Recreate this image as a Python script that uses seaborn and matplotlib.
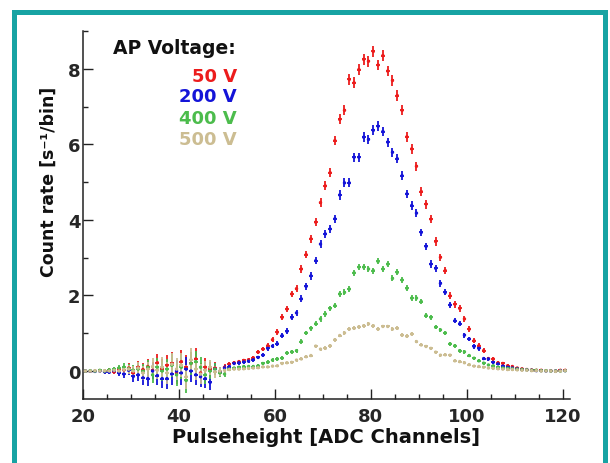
import numpy as np
import pandas as pd
import matplotlib
matplotlib.use("Agg")
import matplotlib.pyplot as plt
import seaborn as sns
from matplotlib.ticker import MultipleLocator, FixedLocator
from matplotlib.patches import Rectangle

# ---------------------------------------------------------------- data
# bin centres of the pulse-height histogram (ADC channels 20 .. 120)
channels = np.arange(20.5, 121.0, 1.0)

voltages = ["50 V", "200 V", "400 V", "500 V"]
colors = ["#ec1c1c", "#1414d8", "#4cbc4c", "#ccbd92"]

rate_50V = [
    0.00, 0.00, 0.00, 0.01, -0.01, 0.02, -0.02, 0.05, 0.03, 0.08,
    -0.05, 0.10, 0.04, 0.12, 0.02, 0.22, 0.05, 0.15, 0.20, -0.05,
    0.25, 0.10, 0.20, 0.32, -0.05, 0.10, 0.05, 0.08, -0.02, 0.10,
    0.18, 0.22, 0.25, 0.28, 0.30, 0.35, 0.50, 0.58, 0.67, 0.83,
    1.03, 1.42, 1.64, 2.04, 2.18, 2.70, 3.08, 3.50, 3.94, 4.46,
    4.90, 5.25, 6.10, 6.66, 6.90, 7.72, 7.63, 7.98, 8.25, 8.20,
    8.46, 8.10, 8.35, 7.94, 7.69, 7.29, 6.90, 6.20, 5.88, 5.42,
    4.75, 4.42, 4.02, 3.43, 3.01, 2.66, 1.99, 1.77, 1.66, 1.38,
    1.11, 0.80, 0.67, 0.54, 0.33, 0.32, 0.22, 0.20, 0.14, 0.12,
    0.08, 0.06, 0.04, 0.03, 0.02, 0.02, 0.01, 0.01, 0.00, 0.02, 0.02,
]
rate_200V = [
    0.00, 0.00, -0.01, 0.00, -0.02, -0.03, 0.01, -0.05, -0.08, 0.02,
    -0.14, -0.10, -0.18, -0.20, 0.00, -0.12, -0.20, -0.20, -0.08, 0.00,
    -0.05, 0.05, 0.00, -0.10, -0.15, -0.20, -0.30, 0.05, -0.02, 0.08,
    0.12, 0.20, 0.22, 0.24, 0.26, 0.30, 0.36, 0.42, 0.60, 0.66,
    0.72, 0.94, 1.05, 1.42, 1.54, 1.91, 2.24, 2.52, 2.92, 3.36,
    3.63, 3.76, 4.03, 4.66, 4.98, 4.98, 5.66, 5.66, 6.19, 6.13,
    6.37, 6.48, 6.34, 6.06, 5.79, 5.62, 5.17, 4.69, 4.38, 4.18,
    3.67, 3.30, 2.83, 2.72, 2.32, 2.08, 1.75, 1.33, 1.25, 0.95,
    0.85, 0.65, 0.60, 0.33, 0.32, 0.23, 0.19, 0.13, 0.10, 0.08,
    0.06, 0.04, 0.03, 0.02, 0.01, 0.01, 0.00, 0.00, 0.00, 0.01, 0.01,
]
rate_400V = [
    0.00, 0.01, 0.00, 0.02, 0.00, 0.03, 0.05, 0.08, 0.10, 0.06,
    0.02, 0.05, 0.00, 0.10, -0.10, 0.10, 0.00, 0.05, 0.15, -0.10,
    0.10, -0.25, 0.20, 0.25, 0.10, -0.10, 0.00, 0.05, -0.05, -0.08,
    0.05, 0.08, 0.10, 0.12, 0.12, 0.12, 0.14, 0.20, 0.23, 0.29,
    0.32, 0.34, 0.48, 0.51, 0.54, 0.78, 1.01, 1.13, 1.25, 1.38,
    1.51, 1.66, 1.73, 2.04, 2.08, 2.17, 2.60, 2.75, 2.75, 2.70,
    2.66, 2.90, 2.70, 2.83, 2.45, 2.61, 2.41, 2.19, 1.93, 1.93,
    1.84, 1.47, 1.42, 1.16, 1.09, 1.01, 0.72, 0.67, 0.54, 0.51,
    0.41, 0.34, 0.27, 0.21, 0.16, 0.14, 0.10, 0.08, 0.07, 0.06,
    0.05, 0.04, 0.03, 0.02, 0.02, 0.01, 0.01, 0.00, 0.00, 0.00, 0.01,
]
rate_500V = [
    0.00, 0.00, 0.01, 0.00, 0.01, 0.00, 0.02, 0.00, 0.04, 0.05,
    0.00, 0.08, -0.05, 0.05, 0.12, 0.02, 0.10, -0.05, 0.18, 0.05,
    0.15, -0.15, 0.30, 0.05, -0.08, 0.02, 0.10, -0.02, 0.00, 0.02,
    0.04, 0.05, 0.05, 0.06, 0.07, 0.08, 0.09, 0.11, 0.11, 0.13,
    0.14, 0.20, 0.22, 0.23, 0.29, 0.32, 0.38, 0.41, 0.66, 0.58,
    0.60, 0.67, 0.83, 0.94, 1.01, 1.11, 1.13, 1.17, 1.20, 1.25,
    1.20, 1.11, 1.18, 1.18, 1.11, 1.13, 0.95, 0.92, 0.98, 0.78,
    0.69, 0.65, 0.60, 0.50, 0.42, 0.43, 0.42, 0.27, 0.25, 0.22,
    0.17, 0.13, 0.12, 0.10, 0.08, 0.07, 0.06, 0.05, 0.04, 0.04,
    0.03, 0.02, 0.02, 0.01, 0.01, 0.00, 0.00, 0.00, -0.01, 0.00, 0.01,
]

# uncertainties: noisy low-channel region (channels 20..49), shared by all
err_low = [
    0.03, 0.03, 0.04, 0.04, 0.05, 0.05, 0.07, 0.08, 0.10, 0.12,
    0.14, 0.16, 0.18, 0.20, 0.22, 0.24, 0.26, 0.28, 0.30, 0.30,
    0.32, 0.32, 0.30, 0.28, 0.26, 0.24, 0.20, 0.16, 0.12, 0.08,
]
# statistical uncertainties for channels 50..120
err_50V = [
    0.06, 0.05, 0.05, 0.05, 0.05, 0.05, 0.06, 0.06, 0.07, 0.07,
    0.08, 0.08, 0.09, 0.09, 0.10, 0.10, 0.10, 0.11, 0.11, 0.12,
    0.12, 0.12, 0.13, 0.13, 0.13, 0.14, 0.14, 0.14, 0.14, 0.14,
    0.14, 0.14, 0.14, 0.14, 0.14, 0.14, 0.13, 0.13, 0.13, 0.12,
    0.12, 0.12, 0.11, 0.11, 0.10, 0.10, 0.09, 0.09, 0.09, 0.08,
    0.08, 0.07, 0.07, 0.06, 0.05, 0.05, 0.05, 0.04, 0.04, 0.04,
    0.03, 0.03, 0.03, 0.03, 0.03, 0.03, 0.03, 0.03, 0.03, 0.03, 0.03,
]
err_200V = [
    0.05, 0.05, 0.05, 0.05, 0.05, 0.05, 0.05, 0.06, 0.06, 0.06,
    0.07, 0.07, 0.08, 0.08, 0.08, 0.09, 0.09, 0.10, 0.10, 0.10,
    0.11, 0.11, 0.11, 0.12, 0.12, 0.12, 0.12, 0.12, 0.13, 0.13,
    0.13, 0.13, 0.13, 0.12, 0.12, 0.12, 0.12, 0.11, 0.11, 0.11,
    0.10, 0.10, 0.10, 0.09, 0.09, 0.08, 0.08, 0.07, 0.07, 0.07,
    0.06, 0.06, 0.06, 0.05, 0.05, 0.04, 0.04, 0.04, 0.03, 0.03,
    0.03, 0.03, 0.03, 0.03, 0.03, 0.03, 0.03, 0.03, 0.03, 0.03, 0.03,
]
err_400V = [
    0.04, 0.04, 0.04, 0.04, 0.04, 0.04, 0.04, 0.04, 0.05, 0.05,
    0.05, 0.05, 0.05, 0.05, 0.05, 0.06, 0.06, 0.06, 0.07, 0.07,
    0.07, 0.07, 0.07, 0.08, 0.08, 0.08, 0.08, 0.08, 0.08, 0.08,
    0.08, 0.08, 0.08, 0.08, 0.08, 0.08, 0.08, 0.08, 0.07, 0.07,
    0.07, 0.07, 0.07, 0.06, 0.06, 0.06, 0.05, 0.05, 0.05, 0.05,
    0.04, 0.04, 0.04, 0.04, 0.03, 0.03, 0.03, 0.03, 0.03, 0.03,
    0.03, 0.03, 0.03, 0.03, 0.03, 0.03, 0.03, 0.03, 0.03, 0.03, 0.03,
]
err_500V = [
    0.03, 0.03, 0.03, 0.03, 0.03, 0.03, 0.03, 0.03, 0.03, 0.03,
    0.03, 0.03, 0.03, 0.04, 0.04, 0.04, 0.04, 0.04, 0.04, 0.04,
    0.05, 0.05, 0.05, 0.05, 0.05, 0.05, 0.05, 0.05, 0.05, 0.05,
    0.05, 0.05, 0.05, 0.05, 0.05, 0.05, 0.05, 0.05, 0.05, 0.05,
    0.04, 0.04, 0.04, 0.04, 0.04, 0.04, 0.04, 0.04, 0.04, 0.04,
    0.03, 0.03, 0.03, 0.03, 0.03, 0.03, 0.03, 0.03, 0.03, 0.03,
    0.02, 0.02, 0.02, 0.02, 0.02, 0.02, 0.02, 0.02, 0.02, 0.02, 0.02,
]

rates = [rate_50V, rate_200V, rate_400V, rate_500V]
errors = [err_low + e for e in (err_50V, err_200V, err_400V, err_500V)]

df = pd.concat(
    [pd.DataFrame({"channel": channels, "rate": r, "err": e, "voltage": v})
     for r, e, v in zip(rates, errors, voltages)],
    ignore_index=True,
)

# ---------------------------------------------------------------- style
sns.set_theme(style="white")
plt.rcParams["font.family"] = ["DejaVu Sans"]
plt.rcParams["font.weight"] = "bold"
plt.rcParams["axes.labelweight"] = "bold"

W, H = 610, 464
fig = plt.figure(figsize=(W / 100, H / 100), dpi=100)
fig.patch.set_facecolor("white")

ax_l, ax_r, ax_t, ax_b = 83, 570, 32, 400
ax = fig.add_axes([ax_l / W, 1 - ax_b / H, (ax_r - ax_l) / W, (ax_b - ax_t) / H])
ax.set_facecolor("white")

palette = dict(zip(voltages, colors))
for v in voltages:
    sub = df[df["voltage"] == v]
    ax.errorbar(sub["channel"], sub["rate"], yerr=sub["err"], xerr=0.4,
                fmt="none", ecolor=palette[v], elinewidth=1.3, capsize=0,
                zorder=2)
sns.scatterplot(data=df, x="channel", y="rate", hue="voltage",
                palette=palette, s=6, linewidth=0, legend=False, ax=ax,
                zorder=3)

ax.set_xlim(20, 121.5)
ax.set_ylim(-0.74, 9.0)
ax.xaxis.set_major_locator(FixedLocator([20, 40, 60, 80, 100, 120]))
ax.xaxis.set_minor_locator(MultipleLocator(5))
ax.yaxis.set_major_locator(FixedLocator([0, 2, 4, 6, 8]))
ax.yaxis.set_minor_locator(MultipleLocator(1))

for side in ("top", "right"):
    ax.spines[side].set_visible(False)
for side in ("left", "bottom"):
    ax.spines[side].set_color("#222222")
    ax.spines[side].set_linewidth(1.1)

ax.tick_params(which="both", direction="in", color="#222222", width=1.0,
               bottom=True, left=True, top=False, right=False)
ax.tick_params(which="major", length=7)
ax.tick_params(which="minor", length=3.5)
ax.tick_params(axis="x", which="major", pad=6, labelsize=13)
ax.tick_params(axis="y", which="major", pad=2, labelsize=13)
for lab in ax.get_xticklabels() + ax.get_yticklabels():
    lab.set_fontweight("bold")

ax.set_xlabel("Pulseheight [ADC Channels]", fontsize=14, fontweight="bold",
              color="#111111")
ax.xaxis.set_label_coords(0.5, -0.076)
ax.xaxis.label.set_verticalalignment("top")
ax.set_ylabel("Count rate [s\u207b\u00b9/bin]", fontsize=12.5,
              fontweight="bold", color="#111111")
ax.yaxis.set_label_coords(-0.052, 0.592)

# voltage key
fig.text(113 / W, 1 - 54 / H, "AP Voltage:", fontsize=13.5,
         fontweight="bold", color="#111111", ha="left", va="baseline")
for v, c, yb in zip(voltages, colors, [82, 102, 124, 145]):
    fig.text(237 / W, 1 - yb / H, v, fontsize=13, fontweight="bold",
             color=c, ha="right", va="baseline")

# teal frame
fig.add_artist(Rectangle((13.5 / W, -0.05), (604.5 - 13.5) / W,
                         1.05 - 12.5 / H, transform=fig.transFigure,
                         fill=False, edgecolor="#17a3a3", linewidth=3.6,
                         clip_on=False))

fig.savefig("out.png", dpi=100, facecolor="white")
